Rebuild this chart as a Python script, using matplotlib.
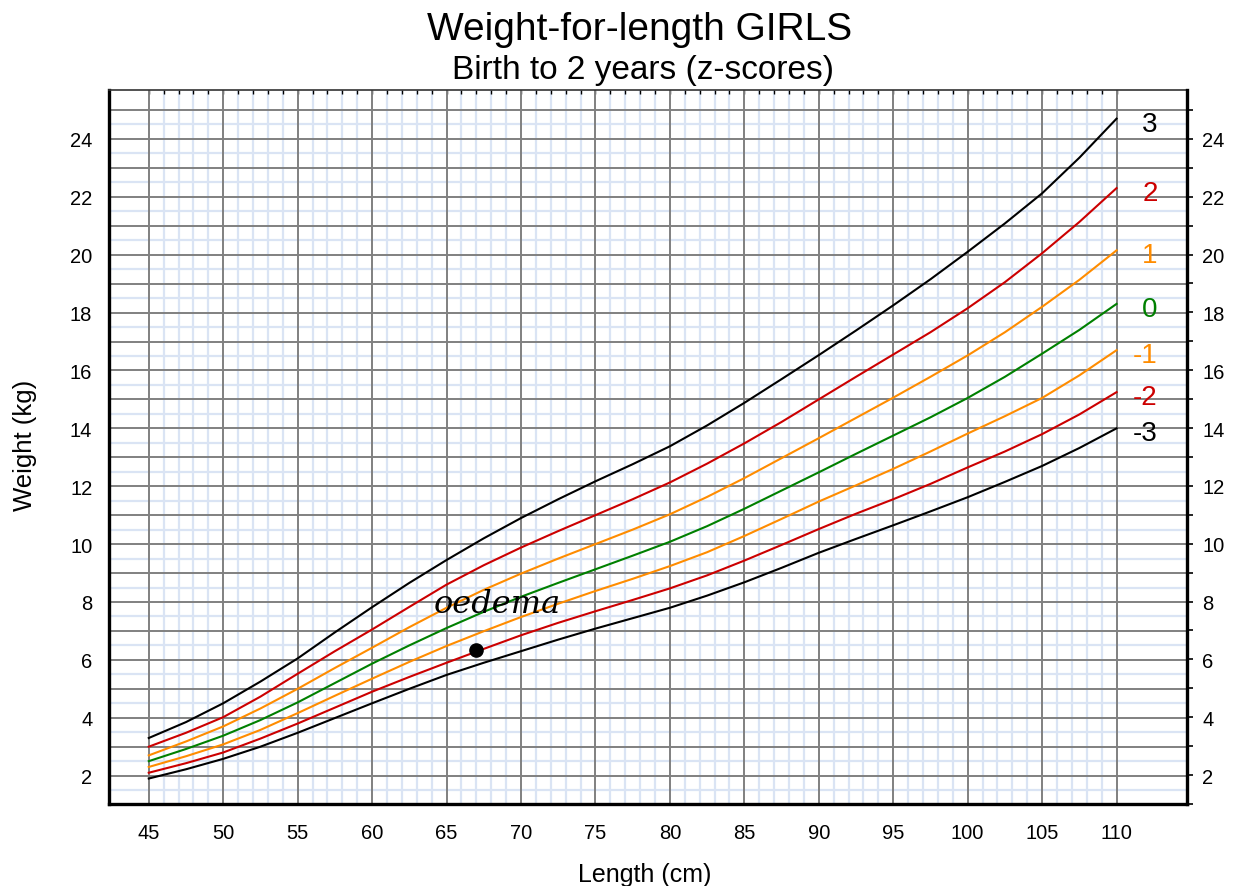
import numpy as np
import matplotlib
matplotlib.use('Agg')
import matplotlib.pyplot as plt

# ---------------- data ----------------
length_cm = [45, 47.5, 50, 52.5, 55, 57.5, 60, 62.5, 65, 67.5, 70, 72.5, 75, 77.5,
             80, 82.5, 85, 87.5, 90, 92.5, 95, 97.5, 100, 102.5, 105, 107.5, 110]

sd3 = [3.30, 3.85, 4.50, 5.25, 6.05, 6.95, 7.82, 8.66, 9.45, 10.20, 10.90, 11.55, 12.17, 12.76,
       13.38, 14.10, 14.88, 15.70, 16.53, 17.38, 18.25, 19.15, 20.10, 21.08, 22.12, 23.35, 24.70]
sd2 = [3.00, 3.48, 4.02, 4.73, 5.52, 6.30, 7.05, 7.83, 8.60, 9.27, 9.88, 10.45, 11.00, 11.55,
       12.13, 12.78, 13.48, 14.22, 15.00, 15.78, 16.55, 17.32, 18.15, 19.05, 20.05, 21.13, 22.30]
sd1 = [2.70, 3.18, 3.70, 4.32, 5.00, 5.72, 6.42, 7.13, 7.80, 8.42, 8.98, 9.50, 10.00, 10.50,
       11.03, 11.63, 12.28, 12.97, 13.66, 14.36, 15.06, 15.78, 16.52, 17.32, 18.20, 19.13, 20.15]
sd0 = [2.50, 2.92, 3.38, 3.92, 4.53, 5.20, 5.87, 6.50, 7.10, 7.66, 8.18, 8.66, 9.13, 9.60,
       10.08, 10.62, 11.22, 11.85, 12.48, 13.12, 13.75, 14.38, 15.05, 15.78, 16.58, 17.40, 18.30]
sd1neg = [2.30, 2.67, 3.08, 3.58, 4.16, 4.76, 5.35, 5.93, 6.48, 6.99, 7.48, 7.94, 8.38, 8.80,
          9.24, 9.72, 10.28, 10.87, 11.47, 12.03, 12.60, 13.20, 13.82, 14.42, 15.05, 15.83, 16.70]
sd2neg = [2.10, 2.43, 2.80, 3.28, 3.80, 4.35, 4.90, 5.41, 5.90, 6.38, 6.85, 7.28, 7.68, 8.07,
          8.47, 8.92, 9.43, 9.97, 10.52, 11.05, 11.55, 12.08, 12.65, 13.20, 13.80, 14.48, 15.25]
sd3neg = [1.90, 2.22, 2.58, 3.00, 3.48, 3.99, 4.50, 5.00, 5.48, 5.90, 6.30, 6.70, 7.08, 7.44,
          7.80, 8.22, 8.68, 9.18, 9.70, 10.18, 10.65, 11.13, 11.62, 12.15, 12.70, 13.32, 14.00]

z_labels = ['3', '2', '1', '0', '-1', '-2', '-3']
z_series = [sd3, sd2, sd1, sd0, sd1neg, sd2neg, sd3neg]
z_colors = ['#000000', '#cc0000', '#ff8c00', '#008000', '#ff8c00', '#cc0000', '#000000']

point_length = [67]
point_weight = [6.35]
note_text = 'oedema'

x_tick_values = list(range(45, 111, 5))
y_tick_values = list(range(2, 25, 2))

# ---------------- figure ----------------
W, H = 1233, 887
fig = plt.figure(figsize=(W / 100, H / 100), dpi=100)
fig.patch.set_facecolor('white')
L, R, T, B = 109, 1187, 91, 805
ax = fig.add_axes([L / W, 1 - B / H, (R - L) / W, (B - T) / H])
xmin, xmax = 42.33, 114.73
ymin, ymax = 1.02, 25.69
ax.set_xlim(xmin, xmax)
ax.set_ylim(ymin, ymax)

grid_blue = '#dae4f4'
grid_gray = '#808080'
minor_x = [v for v in range(46, 110) if v % 5 != 0]
ax.vlines(minor_x, ymin, ymax, colors=grid_blue, linewidth=1.6, zorder=0)
ax.hlines(np.arange(1.5, 25.0, 1.0), xmin, xmax, colors=grid_blue, linewidth=1.6, zorder=0)
ax.vlines(x_tick_values, ymin, ymax, colors=grid_gray, linewidth=1.4, zorder=1)
ax.hlines(np.arange(2, 26, 1), xmin, xmax, colors=grid_gray, linewidth=1.4, zorder=1)

for lab, ser, col in zip(z_labels, z_series, z_colors):
    ax.plot(length_cm, ser, color=col, linewidth=1.5, zorder=3, solid_joinstyle='round')
    ax.annotate(lab, xy=(112.75, ser[-1]), xytext=(0, -3.5), textcoords='offset points',
                ha='right', va='center', fontsize=20, color=col,
                fontfamily='Liberation Sans', zorder=4)

ax.plot(point_length, point_weight, 'o', color='black', markersize=9.5, zorder=5)
ax.text(68.4, 7.95, note_text, fontfamily='DejaVu Serif', style='italic',
        fontsize=23, ha='center', va='center', zorder=5)

# ticks
ax.set_xticks(x_tick_values)
ax.set_xticklabels([str(v) for v in x_tick_values], fontfamily='Liberation Sans')
ax.tick_params(axis='x', length=0, pad=14, labelsize=14.5)
ax.set_yticks(y_tick_values)
ax.set_yticklabels([str(v) for v in y_tick_values], fontfamily='Liberation Sans')
ax.tick_params(axis='y', length=0, pad=12, labelsize=14.5)

ax2 = ax.twinx()
ax2.set_ylim(ymin, ymax)
rt = list(range(1, 26))
ax2.set_yticks(rt)
ax2.set_yticklabels([str(v) if (v % 2 == 0 and v <= 24) else '' for v in rt],
                    fontfamily='Liberation Sans')
ax2.tick_params(axis='y', length=4, width=1.2, pad=7, labelsize=14.5)

sec = ax.secondary_xaxis('top')
sec.set_xticks(list(range(45, 111)))
sec.set_xticklabels([])
sec.tick_params(direction='in', length=3, width=1.0)
sec.spines['top'].set_visible(False)

for a in (ax, ax2):
    for s in ('left', 'bottom', 'right'):
        a.spines[s].set_linewidth(2.4)
        a.spines[s].set_color('black')
    a.spines['top'].set_linewidth(1.2)
    a.spines['top'].set_color('#333333')
for s in ('left', 'bottom', 'top'):
    ax2.spines[s].set_visible(False)
ax.spines['right'].set_visible(False)

# titles and labels
fig.text(640 / W, 1 - 30 / H, 'Weight-for-length GIRLS', ha='center', va='center',
         fontsize=28, fontfamily='Liberation Sans')
fig.text(643 / W, 1 - 70 / H, 'Birth to 2 years (z-scores)', ha='center', va='center',
         fontsize=24, fontfamily='Liberation Sans')
fig.text(645 / W, 1 - 875 / H, 'Length (cm)', ha='center', va='center',
         fontsize=18, fontfamily='Liberation Sans')
fig.text(25 / W, 1 - 445 / H, 'Weight (kg)', ha='center', va='center', rotation=90,
         fontsize=18.5, fontfamily='Liberation Sans')

fig.savefig('out.png', dpi=100, facecolor='white')
